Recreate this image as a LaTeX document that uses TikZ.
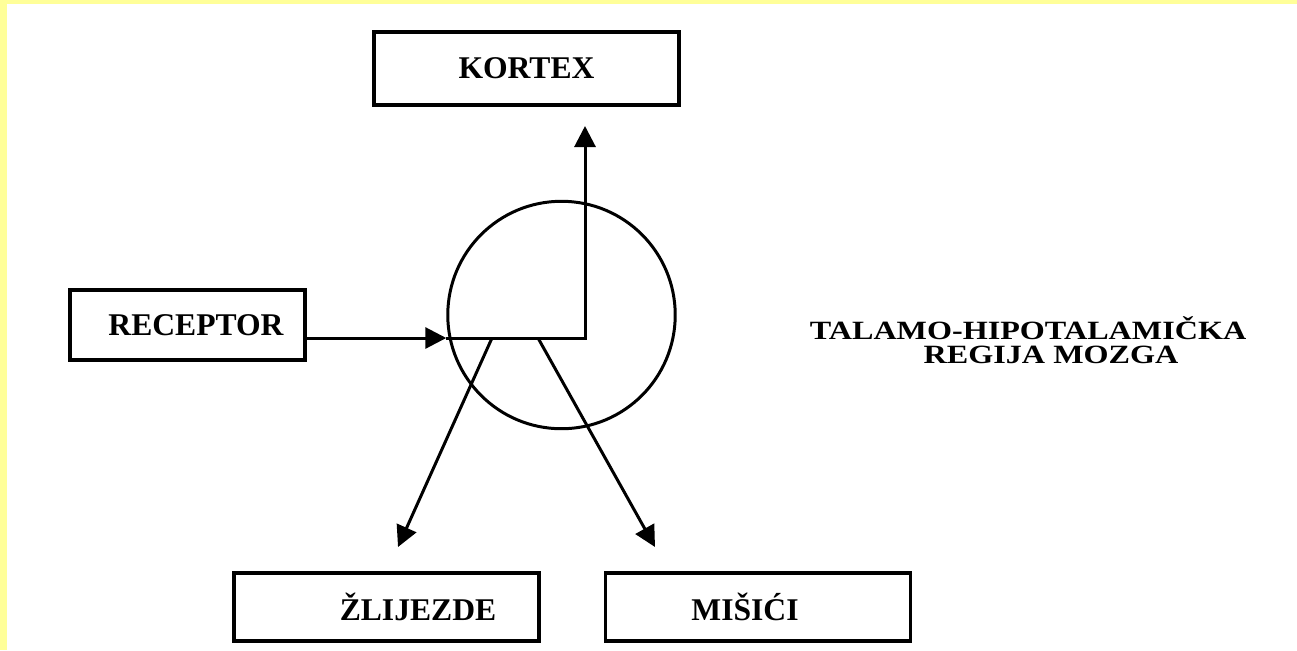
\documentclass[tikz,border=0pt]{standalone}
\usepackage{fontspec}
\setmainfont{Liberation Serif}
\usetikzlibrary{arrows.meta}
\definecolor{PageYellow}{RGB}{255,255,153}

\begin{document}
\begin{tikzpicture}[x=0.02cm, y=-0.02cm, >={Triangle[length=0.42cm,width=0.42cm]},
  font=\bfseries\fontsize{18}{22}\selectfont,
  blk/.style={draw, line width=2pt, minimum width=6.1cm, minimum height=1.4cm, inner sep=0pt},
  region/.style={draw, circle, line width=1.7pt, minimum size=4.55cm, inner sep=0pt},
  sig/.style={->, line width=1.7pt},
  lab/.style={anchor=base, inner sep=0pt, font=\bfseries\fontsize{15}{18}\selectfont}]

  \useasboundingbox (0,0) rectangle (1297,650);
  \fill[PageYellow] (0,0) rectangle (7,650);
  \fill[PageYellow] (0,0) rectangle (1297,4);

  \node[blk, minimum height=1.46cm] (kortex) at (526.5,68.5) {KORTEX};
  \node[blk, minimum width=4.7cm] (rec) at (187.5,325) {\hspace*{0.34cm}RECEPTOR};
  \node[blk, minimum height=1.36cm] (zlij) at (386.5,607) {\hspace*{1.26cm}ŽLIJEZDE};
  \node[blk, minimum height=1.36cm] (misici) at (758,607) {MIŠIĆI\hspace*{0.52cm}};
  \node[region] (talamus) at (561.5,315) {};

  \node[lab] (tal) at (1028,339) {\scalebox{1.22}[1]{TALAMO-HIPOTALAMIČKA}};
  \node[lab] (reg) at (1051,363) {\scalebox{1.22}[1]{REGIJA MOZGA}};

  \coordinate (hub)  at (585,338);
  \coordinate (ktip) at (585,126);
  \coordinate (zsrc) at (492,338);
  \coordinate (ztip) at (398,547);
  \coordinate (msrc) at (538,338);
  \coordinate (mtip) at (655,547);

  \draw[sig] (rec.east |- hub) -- (hub -| talamus.west);
  \draw[sig] (hub -| talamus.west) -- (hub) -- (ktip);
  \draw[sig] (zsrc) -- (ztip);
  \draw[sig] (msrc) -- (mtip);
\end{tikzpicture}
\end{document}
